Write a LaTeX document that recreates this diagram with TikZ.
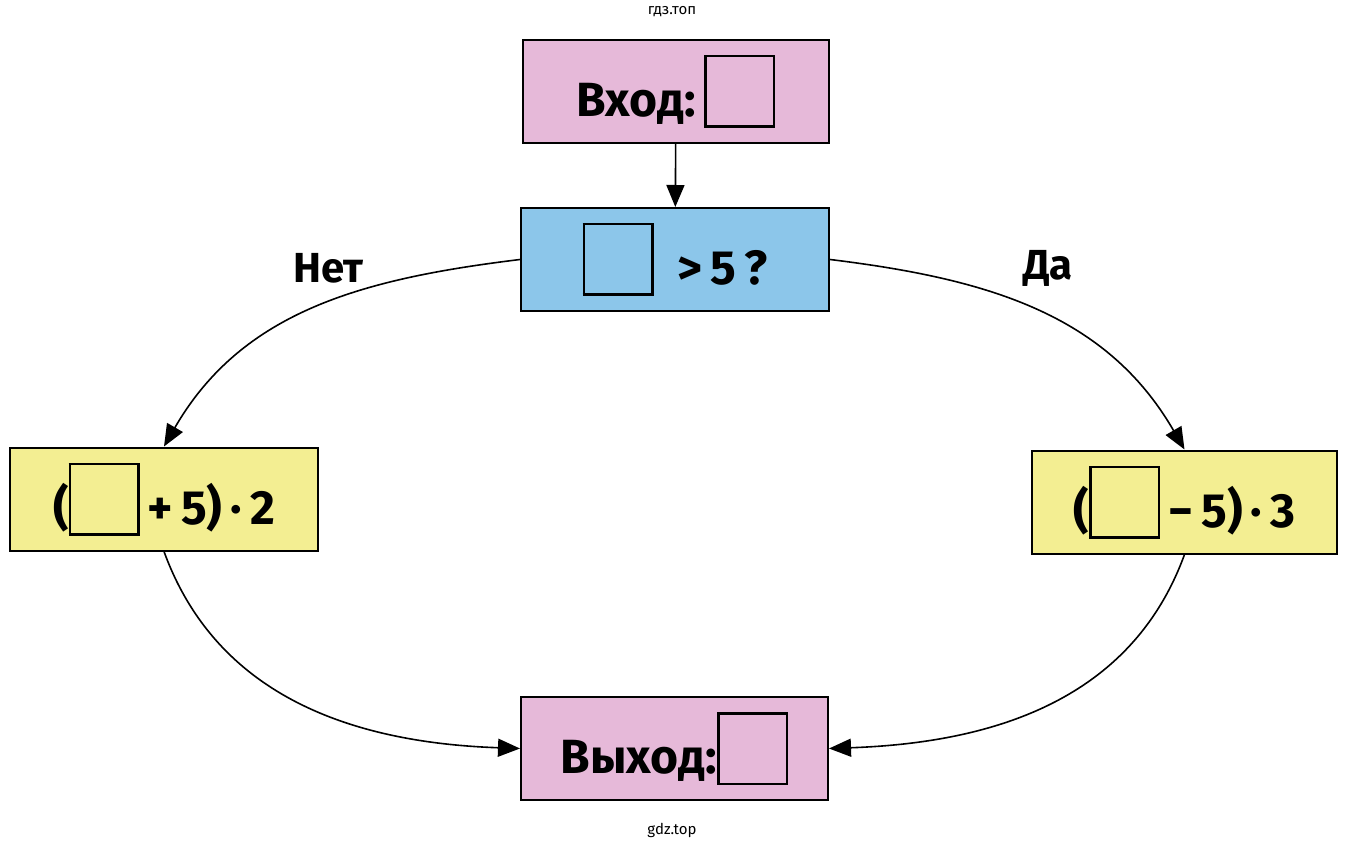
\documentclass[tikz,border=0pt]{standalone}
\usepackage{fontspec}
\setmainfont{Fira Sans}
\usetikzlibrary{arrows.meta}
\definecolor{pinkc}{HTML}{E6B9D9}
\definecolor{bluec}{HTML}{8CC6EA}
\definecolor{yelc}{HTML}{F3EE92}
\newcommand{\sqbox}{{\setlength\fboxrule{2.5pt}\setlength\fboxsep{0pt}\raisebox{-9pt}{\fbox{\rule{0pt}{68pt}\hspace{66pt}}}}}
\tikzset{
  box/.style={draw=black, line width=2pt, minimum height=103pt, inner sep=0pt, font=\bfseries\fontsize{48}{54}\selectfont},
  conn/.style={line width=1.6pt, -{Triangle[length=22pt,width=18pt]}},
  lab/.style={font=\bfseries\fontsize{42}{48}\selectfont},
}
\begin{document}
\begin{tikzpicture}[x=1pt,y=-1pt]
\useasboundingbox (0,0) rectangle (1345,850);
\node (hdr) at (672,12) {\fontsize{15}{18}\selectfont гдз.топ};
\node (ftr) at (672,830) {\fontsize{15}{18}\selectfont gdz.top};
\node[box, fill=pinkc, minimum width=306pt] (in) at (676,91.5) {Вход:\,\sqbox};
\node[box, fill=bluec, minimum width=308pt] (cond) at (675,259.5) {\sqbox\hspace{24pt}>\,5\,?};
\node[box, fill=yelc, minimum width=308pt] (left) at (164,499) {(\sqbox\,+\,5)\,·\,2};
\node[box, fill=yelc, minimum width=305pt] (right) at (1184.5,502) {(\sqbox\,−\,5)\,·\,3};
\node[box, fill=pinkc, minimum width=307pt] (out) at (674.5,748.5) {Выход:\sqbox};
\node[lab] (no) at (328,268) {Нет};
\node[lab] (yes) at (1048,268) {Да};
\draw[conn] (in) -- (cond);
\draw[conn] (cond.west) to[out=187,in=60] (left.north);
\draw[conn] (cond.east) to[out=-7,in=120] (right.north);
\draw[conn] (left.south) to[out=-70,in=178] (out.west);
\draw[conn] (right.south) to[out=-110,in=2] (out.east);
\end{tikzpicture}
\end{document}
